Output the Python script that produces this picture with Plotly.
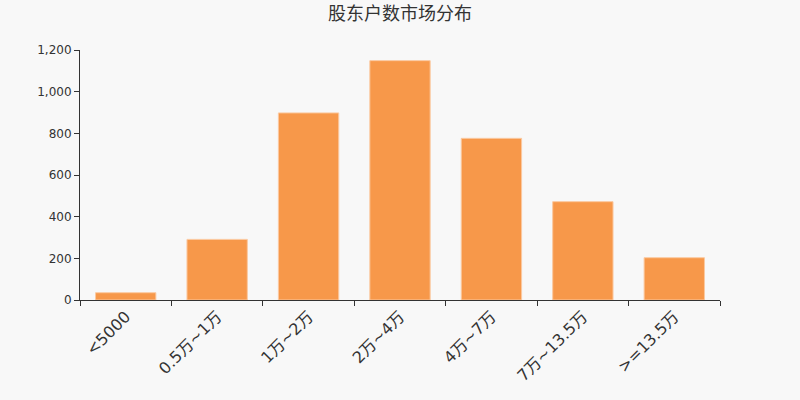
import plotly.graph_objects as go

categories = ["<5000", "0.5万~1万", "1万~2万", "2万~4万", "4万~7万", "7万~13.5万", ">=13.5万"]
values = [35, 291, 898, 1149, 776, 472, 203]
y_ticks = [0, 200, 400, 600, 800, 1000, 1200]

fig = go.Figure(
    go.Bar(
        x=categories,
        y=values,
        marker=dict(color="#f7984a", line=dict(color="#fbc9a0", width=1)),
        width=0.66,
    )
)

fig.update_layout(
    width=800,
    height=400,
    paper_bgcolor="#f8f8f8",
    plot_bgcolor="#f8f8f8",
    margin=dict(l=80, r=80, t=50, b=100),
    font=dict(family="DejaVu Sans, Noto Sans CJK SC", color="#333333", size=12),
    title=dict(
        text="股东户数市场分布",
        x=0.5,
        xanchor="center",
        y=1 - 14 / 400,
        yanchor="middle",
        font=dict(size=18, color="#333333", family="Noto Sans CJK SC, DejaVu Sans"),
    ),
    showlegend=False,
    bargap=0.34,
)

fig.update_xaxes(
    showline=True,
    linecolor="#333333",
    linewidth=1,
    ticks="outside",
    tickson="boundaries",
    ticklen=5,
    tickcolor="#333333",
    tickangle=-45,
    tickfont=dict(size=16, color="#333333", family="DejaVu Sans, Noto Sans CJK SC"),
    showgrid=False,
)

fig.update_yaxes(
    range=[0, 1200],
    tickvals=y_ticks,
    tickformat=",d",
    showline=True,
    linecolor="#333333",
    linewidth=1,
    ticks="outside",
    ticklen=5,
    tickcolor="#333333",
    showgrid=False,
    zeroline=False,
    tickfont=dict(size=12, color="#333333"),
)

fig.write_html(
    "out.html",
    config={"displayModeBar": False},
    post_script="document.body.style.margin='0px';document.body.style.background='#f8f8f8';",
)
